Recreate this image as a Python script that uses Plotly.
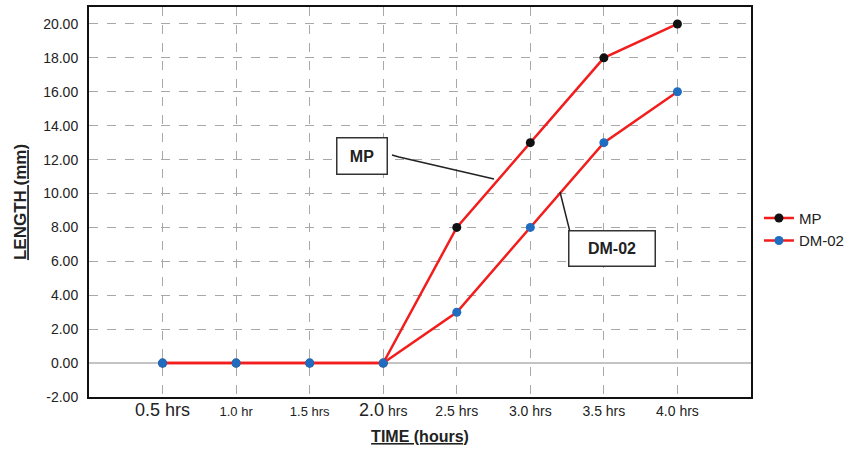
import plotly.graph_objects as go

categories = ["0.5 hrs", "1.0 hr", "1.5 hrs", "2.0 hrs", "2.5 hrs", "3.0 hrs", "3.5 hrs", "4.0 hrs"]
tick_text = [
    "<span style='font-size:18px'>0.5 hrs</span>",
    "<span style='font-size:13px'>1.0 hr</span>",
    "<span style='font-size:13px'>1.5 hrs</span>",
    "<span style='font-size:18px'>2.0</span><span style='font-size:14px'> hrs</span>",
    "<span style='font-size:14px'>2.5 hrs</span>",
    "<span style='font-size:14px'>3.0 hrs</span>",
    "<span style='font-size:14px'>3.5 hrs</span>",
    "<span style='font-size:14px'>4.0 hrs</span>",
]
mp_values = [0, 0, 0, 0, 8, 13, 18, 20]
dm02_values = [0, 0, 0, 0, 3, 8, 13, 16]
y_ticks = [-2, 0, 2, 4, 6, 8, 10, 12, 14, 16, 18, 20]

RED = "#f21d1d"
x_idx = list(range(len(categories)))

fig = go.Figure()
fig.add_trace(go.Scatter(
    x=x_idx, y=mp_values, name="MP", mode="lines+markers",
    line=dict(color=RED, width=2.5),
    marker=dict(color="#111111", size=9),
))
fig.add_trace(go.Scatter(
    x=x_idx, y=dm02_values, name="DM-02", mode="lines+markers",
    line=dict(color=RED, width=2.5),
    marker=dict(color="#1f6cc0", size=9),
))

sans = "Liberation Sans, Arial, sans-serif"

fig.update_layout(
    width=852, height=453,
    margin=dict(l=89, r=101, t=7, b=56, autoexpand=False),
    paper_bgcolor="white", plot_bgcolor="white",
    font=dict(family=sans, color="#222222", size=14),
    xaxis=dict(
        range=[-1, 8], tickmode="array", tickvals=x_idx, ticktext=tick_text,
        tickfont=dict(family=sans, size=14, color="#222222"),
        showgrid=True, gridcolor="#a8a8a8", griddash="dash", gridwidth=1.3,
        showline=True, linecolor="#111111", linewidth=2, mirror=True,
        ticks="", zeroline=False, automargin=False,
        title=dict(text="<b><u>TIME (hours)</u></b>",
                   font=dict(family=sans, size=16, color="#222222"), standoff=12),
    ),
    yaxis=dict(
        range=[-2, 21], tickmode="array", tickvals=y_ticks,
        ticktext=[f"{v:.2f}" for v in y_ticks],
        tickfont=dict(size=14, color="#222222"),
        showgrid=True, gridcolor="#a8a8a8", griddash="dash", gridwidth=1.3,
        zeroline=True, zerolinecolor="#c4c4c4", zerolinewidth=2,
        showline=True, linecolor="#111111", linewidth=2, mirror=True,
        ticks="", ticklabelstandoff=6, automargin=False,
        title=dict(text="<b><u>LENGTH (mm)</u></b>", font=dict(size=17, color="#222222"), standoff=12),
    ),
    legend=dict(
        x=1.012, y=0.43, xanchor="left", yanchor="middle",
        font=dict(size=15, color="#222222"), bgcolor="rgba(0,0,0,0)",
        itemwidth=30, tracegroupgap=4,
    ),
    showlegend=True,
)

# Callout boxes
fig.add_annotation(
    x=0.413, y=0.618, xref="paper", yref="paper", text="<b>MP</b>",
    showarrow=False, width=47, height=33, bordercolor="#333333", borderwidth=1.5,
    bgcolor="white", font=dict(size=16, color="#222222"),
)
fig.add_annotation(
    x=0.857, y=0.333, xref="paper", yref="paper", text="<b>DM-02</b>",
    showarrow=False, width=83, height=32, bordercolor="#333333", borderwidth=1.5,
    bgcolor="white", font=dict(size=16, color="#222222"),
)
# Leader lines
fig.add_shape(type="path", xref="paper", yref="paper",
              path="M 0.4577 0.6205 L 0.4683 0.6154 L 0.6118 0.5590",
              line=dict(color="#222222", width=1.5))
fig.add_shape(type="path", xref="paper", yref="paper",
              path="M 0.7115 0.5256 L 0.7372 0.3513 L 0.7810 0.3615",
              line=dict(color="#222222", width=1.5))

fig.write_html("out.html", config={"displayModeBar": False},
               post_script="document.body.style.margin='0';")
